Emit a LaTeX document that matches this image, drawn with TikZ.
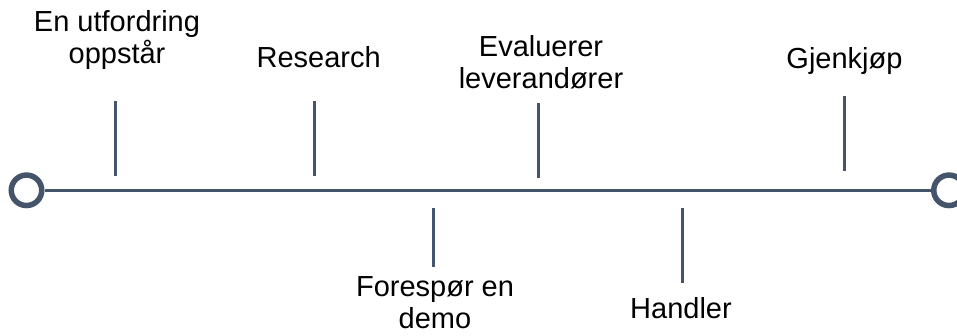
\documentclass[tikz,border=0pt]{standalone}
\usepackage{fontspec}
\setmainfont{Liberation Sans}
\usetikzlibrary{calc}
\definecolor{slate}{HTML}{44546A}

\begin{document}
\begin{tikzpicture}[x=1pt, y=-1pt,
	ring/.style={circle, draw=slate, fill=white, line width=5.5pt, minimum size=30.5pt, inner sep=0pt},
	tick/.style={draw=slate, line width=3pt},
	steptext/.style={anchor=base, align=center, inner sep=0pt, font=\fontsize{29}{32}\selectfont}]
	% Parameters
	\def\liney{190.3}

	\useasboundingbox (0,0) rectangle (957,335);

	% End rings
	\node[ring] (Start) at (26.5,\liney) {};
	\node[ring] (End) at (949,\liney) {};

	% Timeline
	\draw[slate, line width=3.5pt] (Start) -- (End);

	% Ticks above the line
	\foreach \i/\x/\ya/\yb in {1/115.5/101/176, 2/314/101/176, 3/538.3/103.3/178.3, 4/844.3/96/171} {
		\coordinate (TopA\i) at (\x,\ya);
		\coordinate (TopB\i) at (\x,\yb);
		\draw[tick] (TopA\i) -- (TopB\i);
	}

	% Ticks below the line
	\foreach \i/\x/\ya/\yb in {1/433.7/208.3/266.7, 2/682.3/208.3/283.3} {
		\coordinate (BotA\i) at (\x,\ya);
		\coordinate (BotB\i) at (\x,\yb);
		\draw[tick] (BotA\i) -- (BotB\i);
	}

	% Labels (anchored at the baseline of the last line)
	\foreach \i/\x/\y/\txt in {1/117/63/{En utfordring\\oppstår}, 2/318.7/67.7/{Research},
		3/541/88/{Evaluerer\\leverandører}, 4/844.5/68.3/{Gjenkjøp},
		5/435/328/{Forespør en\\demo}, 6/681/318.3/{Handler}}
	\node[steptext] (Step\i) at (\x,\y) {\txt};

\end{tikzpicture}
\end{document}
